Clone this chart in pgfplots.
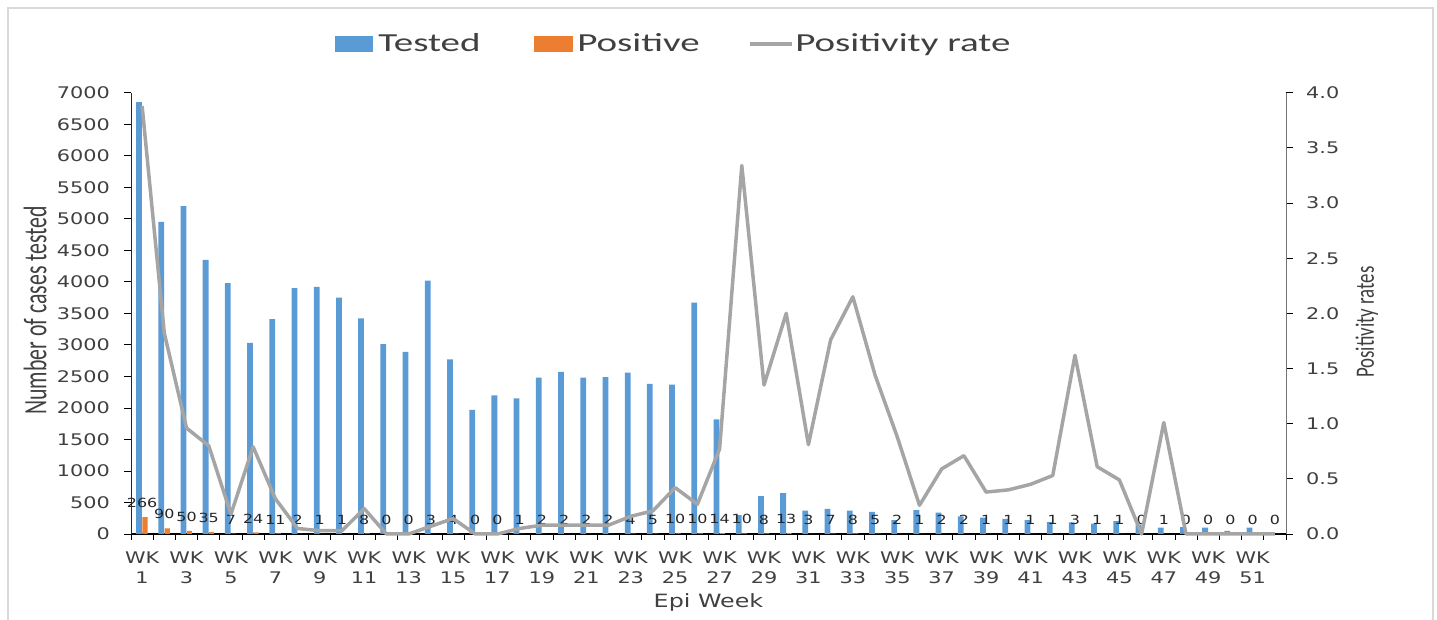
\documentclass[border=0pt]{standalone}
\usepackage{fontspec}
\setmainfont{DejaVu Sans}
\newfontfamily\carlito{Carlito}
\usepackage{pgfplots}
\usepackage{pgfplotstable}
\pgfplotsset{compat=1.18}

\definecolor{tested}{HTML}{5B9BD5}
\definecolor{positive}{HTML}{ED7D31}
\definecolor{rate}{HTML}{A5A5A5}
\definecolor{txt}{HTML}{404040}
\definecolor{frame}{HTML}{D9D9D9}

% weekly surveillance numbers
\pgfplotstableread{
wk tested positive rate
1 6850 266 3.88
2 4950 90 1.82
3 5200 50 0.96
4 4350 35 0.80
5 3980 7 0.18
6 3030 24 0.79
7 3410 11 0.32
8 3900 2 0.05
9 3920 1 0.03
10 3750 1 0.03
11 3420 8 0.23
12 3010 0 0.00
13 2890 0 0.00
14 4020 3 0.07
15 2770 4 0.14
16 1970 0 0.00
17 2200 0 0.00
18 2150 1 0.05
19 2480 2 0.08
20 2570 2 0.08
21 2480 2 0.08
22 2490 2 0.08
23 2560 4 0.16
24 2380 5 0.21
25 2370 10 0.42
26 3670 10 0.27
27 1820 14 0.77
28 300 10 3.34
29 600 8 1.35
30 650 13 2.00
31 370 3 0.81
32 400 7 1.76
33 370 8 2.15
34 350 5 1.44
35 220 2 0.88
36 380 1 0.26
37 340 2 0.59
38 280 2 0.71
39 260 1 0.38
40 240 1 0.40
41 220 1 0.45
42 190 1 0.53
43 185 3 1.62
44 165 1 0.61
45 205 1 0.49
46 150 0 0.00
47 100 1 1.01
48 110 0 0.00
49 100 0 0.00
50 50 0 0.00
51 100 0 0.00
52 30 0 0.00
}\epidata

% the source picture is stretched sideways; \scalebox copies that for text
\newcommand{\wide}[1]{\scalebox{1.3}[1]{#1}}

\pgfplotsset{
  common/.style={
    at={(131pt,86pt)}, anchor=south west,
    scale only axis, width=1155pt, height=441.3pt,
    xmin=0.5, xmax=52.5,
    /pgf/number format/assume math mode=true,
    /pgf/number format/1000 sep={},
    scaled y ticks=false,
    tick align=outside,
    major tick length=7pt, minor tick length=6pt,
    tick style={black, line width=0.8pt},
    tick label style={font=\fontsize{16}{19.5}\selectfont, text=txt},
  },
}

\begin{document}
\begin{tikzpicture}
\path[use as bounding box] (0pt,0pt) rectangle (1437pt,620pt);
\draw[frame, line width=1.5pt] (8pt,0pt) -- (8pt,612pt) -- (1433pt,612pt) -- (1433pt,0pt);

\begin{axis}[
    common,
    ymin=0, ymax=7000,
    axis y line*=left, axis x line*=bottom,
    x axis line style={black, line width=1.5pt},
    y axis line style={black!85, line width=0.8pt},
    xtick={1,3,...,51},
    xticklabel={\wide{\begin{tabular}{@{}c@{}}WK\\\pgfmathprintnumber{\tick}\end{tabular}}},
    minor xtick={0.5,1.5,...,52.5},
    major x tick style={draw=none},
    ytick={0,500,...,7000},
    yticklabel={\wide{\pgfmathprintnumber{\tick}}},
    xticklabel style={anchor=north, inner sep=0pt, yshift=-9pt},
    yticklabel style={anchor=east, inner sep=0pt},
    yticklabel shift=14pt,
    xlabel={Epi Week},
    xlabel style={at={(axis description cs:0.5,-0.1677)}, anchor=base,
      font=\fontsize{18.3}{20}\selectfont, text=txt, xscale=1.3},
    ylabel={Number of cases tested},
    every axis y label/.style={at={(axis description cs:-0.0831,0.507)},
      anchor=center, rotate=90, yscale=1.5,
      font=\carlito\fontsize{21.8}{24}\selectfont, text=txt},
]
\addplot[ybar, bar width=0.26, bar shift=-0.14, fill=tested, draw=none]
  table[x=wk, y=tested] {\epidata};
\addplot[ybar, bar width=0.23, bar shift=0.13, fill=positive, draw=none,
  nodes near coords={\scalebox{1.26}[1]{\pgfmathprintnumber{\pgfplotspointmeta}}},
  every node near coord/.append style={anchor=south, inner sep=0pt, yshift=9pt,
    font=\fontsize{12.6}{14}\selectfont, text=black!85}]
  table[x=wk, y=positive] {\epidata};
\end{axis}

\begin{axis}[
    common,
    ymin=0, ymax=4,
    axis x line=none, axis y line*=right,
    y axis line style={black!55, line width=0.8pt},
    ytick={0,0.5,1,1.5,2,2.5,3,3.5,4},
    yticklabel={\wide{\pgfmathprintnumber[fixed,fixed zerofill,precision=1]{\tick}}},
    yticklabel style={anchor=west, inner sep=0pt},
    yticklabel shift=13pt,
    ylabel={Positivity rates},
    every axis y label/.style={at={(axis description cs:1.0701,0.480)},
      anchor=center, rotate=90, yscale=1.4,
      font=\carlito\fontsize{18.9}{22}\selectfont, text=txt},
    clip=false,
]
\addplot[rate, line width=3.5pt, line join=round] table[x=wk, y=rate] {\epidata};
\end{axis}

% legend across the top
\fill[tested] (335pt,568pt) rectangle (373pt,584pt);
\node[anchor=base west, inner sep=0pt, xscale=1.5, text=txt,
  font=\carlito\fontsize{26}{30}\selectfont] at (378pt,568pt) {Tested};
\fill[positive] (534pt,568pt) rectangle (573pt,584pt);
\node[anchor=base west, inner sep=0pt, xscale=1.5, text=txt,
  font=\carlito\fontsize{26}{30}\selectfont] at (577pt,568pt) {Positive};
\draw[rate, line width=4pt] (750pt,576pt) -- (792pt,576pt);
\node[anchor=base west, inner sep=0pt, xscale=1.5, text=txt,
  font=\carlito\fontsize{26}{30}\selectfont] at (795pt,568pt) {Positivity rate};
\end{tikzpicture}
\end{document}
